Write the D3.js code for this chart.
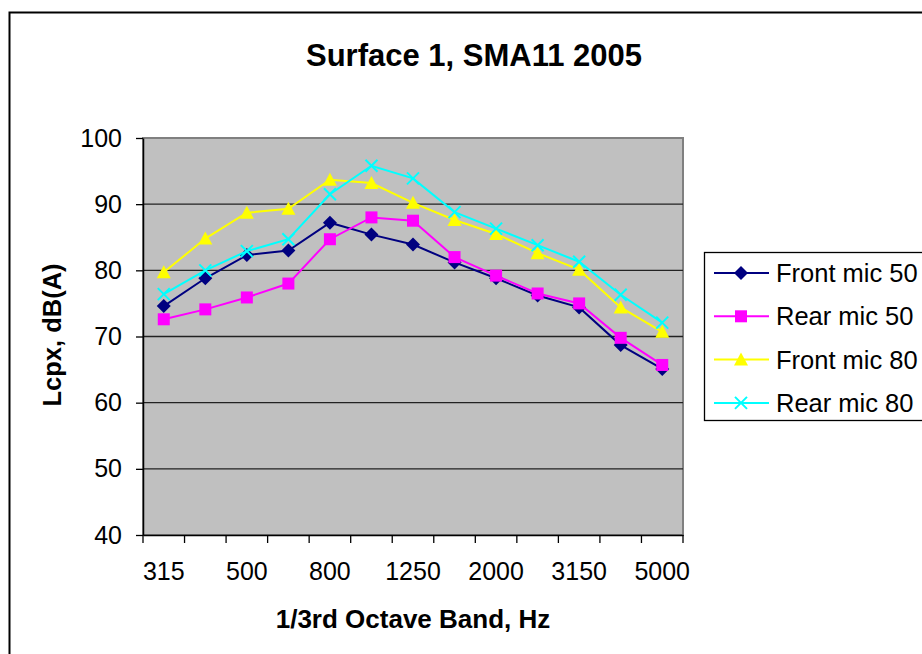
<!DOCTYPE html>
<html><head><meta charset="utf-8">
<script src="https://cdn.jsdelivr.net/npm/d3@7"></script>
<style>body{margin:0;background:#fff}svg{display:block;font-family:"Liberation Sans",Arial,sans-serif}</style>
</head><body>
<svg id="c" width="922" height="654"></svg>
<script>
const bands = ["315","400","500","630","800","1000","1250","1600","2000","2500","3150","4000","5000"];
const tickLabels = ["315","500","800","1250","2000","3150","5000"];
const yTicks = [40,50,60,70,80,90,100];
const seriesNames = ["Front mic 50","Rear mic 50","Front mic 80","Rear mic 80"];
const frontMic50 = [74.6,78.8,82.3,83.0,87.2,85.4,83.9,81.2,78.8,76.2,74.4,68.7,65.1];
const rearMic50  = [72.6,74.1,75.9,78.0,84.7,88.0,87.5,82.0,79.2,76.5,75.0,69.8,65.7];
const frontMic80 = [79.7,84.8,88.7,89.3,93.7,93.2,90.2,87.6,85.5,82.6,80.1,74.4,70.7];
const rearMic80  = [76.4,80.0,82.9,84.7,91.5,95.8,93.9,88.8,86.3,83.8,81.3,76.3,72.1];
const colors = ["#000080","#FF00FF","#FFFF00","#00FFFF"];
const markers = ["diamond","square","triangle","cross"];

const series = [frontMic50, rearMic50, frontMic80, rearMic80].map((v,i)=>({name:seriesNames[i],values:v,color:colors[i],marker:markers[i]}));

const svg = d3.select("#c");
const L=143, R=683, T=138, B=535;
const x = d3.scaleBand().domain(bands).range([L,R]).padding(0);
const y = d3.scaleLinear().domain([40,100]).range([B,T]);

// outer chart border
svg.append("rect").attr("x",9.5).attr("y",12.5).attr("width",1000).attr("height",1000)
  .attr("fill","#fff").attr("stroke","#000").attr("stroke-width",2);

// title
svg.append("text").attr("x",474).attr("y",66).attr("text-anchor","middle")
  .attr("font-weight","bold").attr("font-size",31).text("Surface 1, SMA11 2005");

// plot bg
svg.append("rect").attr("x",L).attr("y",T).attr("width",R-L).attr("height",B-T)
  .attr("fill","#C0C0C0").attr("stroke","#808080").attr("stroke-width",2);

// gridlines
svg.append("g").selectAll("line").data(yTicks.filter(d=>d>40&&d<100)).join("line")
  .attr("x1",L).attr("x2",R).attr("y1",d=>y(d)).attr("y2",d=>y(d))
  .attr("stroke","#222").attr("stroke-width",1.3);

// y axis
const ya = svg.append("g").attr("transform",`translate(${L},0)`)
  .call(d3.axisLeft(y).tickValues(yTicks).tickSize(7).tickPadding(14).tickSizeOuter(0));
ya.select(".domain").attr("stroke","#000").attr("stroke-width",1.5);
ya.selectAll(".tick line").attr("stroke","#000").attr("stroke-width",1.3);
ya.selectAll(".tick text").attr("font-size",25).attr("fill","#000").attr("font-family","Liberation Sans, Arial, sans-serif");

// x axis with ticks at band boundaries
const xa = svg.append("g").attr("transform",`translate(0,${B})`)
  .call(d3.axisBottom(x).tickValues([]).tickSizeOuter(0));
xa.select(".domain").attr("stroke","#000").attr("stroke-width",1.5);
const bounds = bands.map(b=>x(b)).concat([x(bands[bands.length-1])+x.bandwidth()]);
xa.selectAll("line.bt").data(bounds).join("line").attr("class","bt")
  .attr("x1",d=>d).attr("x2",d=>d).attr("y1",0).attr("y2",8).attr("stroke","#000").attr("stroke-width",1.3);
xa.selectAll("text.lab").data(tickLabels).join("text").attr("class","lab")
  .attr("x",d=>x(d)+x.bandwidth()/2).attr("y",45).attr("text-anchor","middle")
  .attr("font-size",25).attr("fill","#000").text(d=>d);

// axis titles
svg.append("text").attr("transform","translate(61,335) rotate(-90)").attr("text-anchor","middle")
  .attr("font-weight","bold").attr("font-size",25.5).text("Lcpx, dB(A)");
svg.append("text").attr("x",413).attr("y",628).attr("text-anchor","middle")
  .attr("font-weight","bold").attr("font-size",26).text("1/3rd Octave Band, Hz");

function drawMarker(g, type, color){
  if(type==="diamond") g.append("path").attr("d","M0,-7L7,0L0,7L-7,0Z").attr("fill",color);
  else if(type==="square") g.append("rect").attr("x",-6).attr("y",-6).attr("width",12).attr("height",12).attr("fill",color);
  else if(type==="triangle") g.append("path").attr("d","M0,-7L7,6L-7,6Z").attr("fill",color);
  else g.append("path").attr("d","M-6,-6L6,6M-6,6L6,-6").attr("stroke",color).attr("stroke-width",2).attr("fill","none");
}

const line = d3.line().x((d,i)=>x(bands[i])+x.bandwidth()/2).y(d=>y(d));
series.forEach(s=>{
  svg.append("path").datum(s.values).attr("d",line).attr("fill","none").attr("stroke",s.color).attr("stroke-width",2);
  s.values.forEach((v,i)=>{
    const g = svg.append("g").attr("transform",`translate(${x(bands[i])+x.bandwidth()/2},${y(v)})`);
    drawMarker(g,s.marker,s.color);
  });
});

// legend
svg.append("rect").attr("x",704.5).attr("y",252.5).attr("width",300).attr("height",168)
  .attr("fill","#fff").attr("stroke","#000").attr("stroke-width",1.3);
series.forEach((s,i)=>{
  const yy = 273 + i*43.3;
  svg.append("line").attr("x1",714).attr("x2",769).attr("y1",yy).attr("y2",yy).attr("stroke",s.color).attr("stroke-width",2);
  const g = svg.append("g").attr("transform",`translate(741,${yy})`);
  drawMarker(g,s.marker,s.color);
  svg.append("text").attr("x",776).attr("y",yy+9).attr("font-size",25.5).attr("fill","#000").text(s.name);
});
</script>
</body></html>
